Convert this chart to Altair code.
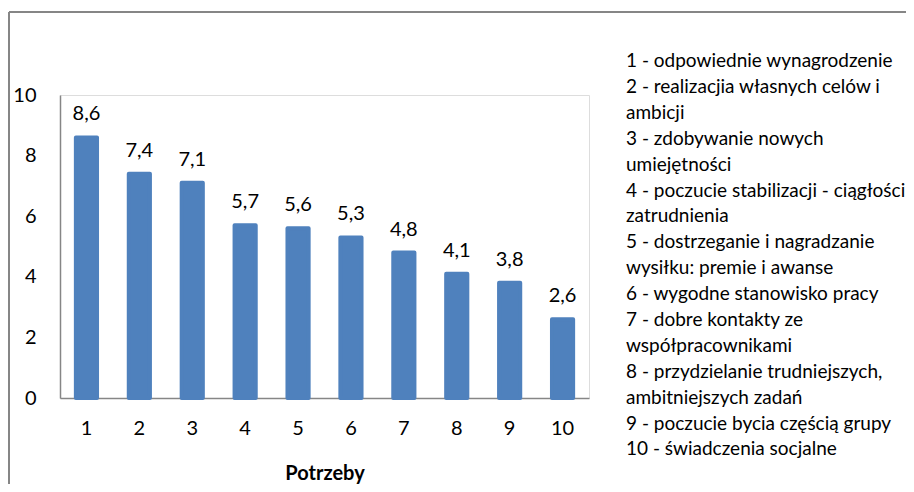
import altair as alt
import pandas as pd

categories = [str(i) for i in range(1, 11)]
values = [8.6, 7.4, 7.1, 5.7, 5.6, 5.3, 4.8, 4.1, 3.8, 2.6]
y_ticks = [0, 2, 4, 6, 8, 10]
legend_lines = [
    "1 - odpowiednie wynagrodzenie",
    "2 - realizacjia własnych celów i",
    "ambicji",
    "3 - zdobywanie nowych",
    "umiejętności",
    "4 - poczucie stabilizacji - ciągłości",
    "zatrudnienia",
    "5 - dostrzeganie i nagradzanie",
    "wysiłku: premie i awanse",
    "6 - wygodne stanowisko pracy",
    "7 - dobre kontakty ze",
    "współpracownikami",
    "8 - przydzielanie trudniejszych,",
    "ambitniejszych zadań",
    "9 - poczucie bycia częścią grupy",
    "10 - świadczenia socjalne",
]

FONT = "Lato"
BLUE = "#4F81BD"
GRAY = "#868686"

df = pd.DataFrame({"cat": categories, "val": values})
df["label"] = [f"{v:.1f}".replace(".", ",") for v in values]

x = alt.X("cat:N", sort=categories, title="Potrzeby",
          scale=alt.Scale(paddingInner=0.6, paddingOuter=0.3),
          axis=alt.Axis(labelAngle=0, ticks=False, domainColor=GRAY, domainWidth=1.5,
                        labelFontSize=20, labelPadding=20, labelColor="black",
                        labelFont=FONT, titleFont=FONT, titleFontSize=20,
                        titleFontWeight="bold", titleColor="black",
                        titleBaseline="alphabetic", titleY=81))
y = alt.Y("val:Q", title=None,
          scale=alt.Scale(domain=[0, 10], nice=False),
          axis=alt.Axis(values=y_ticks, ticks=False, grid=False, domainColor=GRAY,
                        domainWidth=1.5, labelFontSize=20, labelPadding=24,
                        labelColor="black", labelFont=FONT))

base = alt.Chart(df)
bars = base.mark_bar(color=BLUE, stroke=BLUE, strokeWidth=4, strokeJoin="round").encode(x=x, y=y)
labels = base.mark_text(font=FONT, fontSize=20, color="black", baseline="alphabetic", dy=-17).encode(
    x=alt.X("cat:N", sort=categories), y="val:Q", text="label:N")

one = pd.DataFrame({"a": [0]})
legend = alt.Chart(one).mark_text(text=legend_lines, font=FONT, fontSize=19, color="black",
                                  align="left", baseline="alphabetic", lineHeight=25.9).encode(
    x=alt.value(566), y=alt.value(-28))
border_top = alt.Chart(one).mark_rule(color=GRAY, strokeWidth=2).encode(
    x=alt.value(-51), x2=alt.value(860), y=alt.value(-83))
border_left = alt.Chart(one).mark_rule(color=GRAY, strokeWidth=2).encode(
    x=alt.value(-51), y=alt.value(-83), y2=alt.value(400))

chart = alt.layer(bars, labels, legend, border_top, border_left).properties(
    width=529, height=303,
    autosize=alt.AutoSizeParams(type="none"),
    padding={"left": 52, "top": 87, "right": 317, "bottom": 86},
).configure_view(stroke=None).configure(background="white")

chart.save("out.html", embed_options={"renderer": "svg", "actions": False})
